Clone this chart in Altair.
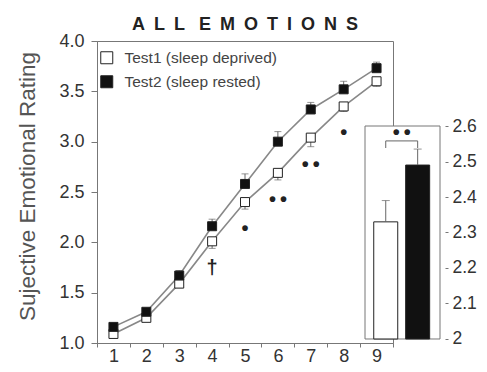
import altair as alt
import pandas as pd

FONT = "Liberation Sans"

# ---------------- data ----------------
blocks = ["1", "2", "3", "4", "5", "6", "7", "8", "9"]
series_names = ["Test1 (sleep deprived)", "Test2 (sleep rested)"]
test1_mean = [1.09, 1.25, 1.59, 2.01, 2.40, 2.69, 3.04, 3.35, 3.60]
test2_mean = [1.16, 1.31, 1.67, 2.16, 2.58, 3.00, 3.32, 3.52, 3.73]
test1_err = [0.03, 0.03, 0.04, 0.07, 0.07, 0.07, 0.09, 0.05, 0.05]
test2_err = [0.03, 0.03, 0.05, 0.07, 0.10, 0.10, 0.07, 0.08, 0.06]
sig_marks = ["", "", "", "\u2020", "\u2022", "\u2022\u2009\u2022", "\u2022\u2009\u2022", "\u2022", ""]

overall_mean = [2.33, 2.49]
overall_err = [0.06, 0.045]
overall_sig = "\u2022\u2009\u2022"

y_ticks = [1.0, 1.5, 2.0, 2.5, 3.0, 3.5, 4.0]
inset_ticks = [2.0, 2.1, 2.2, 2.3, 2.4, 2.5, 2.6]

# ---------------- tables ----------------
rows = []
for b, m1, e1, m2, e2 in zip(blocks, test1_mean, test1_err, test2_mean, test2_err):
    rows.append({"block": b, "series": series_names[0], "mean": m1, "end": m1 - e1})
    rows.append({"block": b, "series": series_names[1], "mean": m2, "end": m2 + e2})
df = pd.DataFrame(rows)
sig_df = pd.DataFrame({"block": blocks, "mean": test1_mean, "mark": sig_marks})
sig_df = sig_df[sig_df["mark"] != ""]

inset_df = pd.DataFrame({
    "series": series_names,
    "pos": list(range(1, len(series_names) + 1)),
    "mean": overall_mean,
    "top": [m + e for m, e in zip(overall_mean, overall_err)],
})
bracket_y = max(inset_df["top"]) + 0.023
leg_df = pd.DataFrame({"pos": inset_df["pos"], "y": bracket_y, "y2": bracket_y - 0.02})
star_df = pd.DataFrame({"pos": [inset_df["pos"].mean()], "y": [bracket_y], "mark": [overall_sig]})
bracket_df = pd.DataFrame({"x": [inset_df["pos"].min()], "x2": [inset_df["pos"].max()], "y": [bracket_y]})

# ---------------- shared encodings ----------------
GRAY = "#777777"
LABEL = "#333333"

fill_scale = alt.Scale(domain=series_names, range=["white", "#111111"])
legend = alt.Legend(
    title=None, orient="none", legendX=2, legendY=9, symbolType="square",
    symbolSize=144, symbolStrokeColor="#222222", symbolStrokeWidth=1,
    labelFontSize=15.5, labelFont=FONT, labelColor="#444444", labelOffset=10,
    rowPadding=6, padding=0,
)

x_main = alt.X(
    "block:O",
    scale=alt.Scale(type="band", domain=blocks, paddingInner=0, paddingOuter=0),
    axis=alt.Axis(
        title=None, labelAngle=0, tickBand="extent", tickSize=4, labelPadding=0,
        labelFontSize=18, labelFont=FONT, labelColor=LABEL,
        domainColor=GRAY, tickColor=GRAY,
    ),
)
y_scale = alt.Scale(domain=[1, 4], nice=False, zero=False)
y_axis = alt.Axis(
    values=y_ticks, format=".1f", tickSize=6, labelPadding=7,
    labelFontSize=18, labelFont=FONT, labelColor=LABEL,
    domainColor=GRAY, tickColor=GRAY, grid=False,
    titleFont=FONT, titleFontSize=22.5, titleFontWeight="normal",
    titleColor="#555555", titleX=-70, titleY=145, titleBaseline="middle",
    titleAngle=270,
)
Y_TITLE = "Sujective Emotional Rating"

base = alt.Chart(df).encode(x=x_main)

lines = base.mark_line(color="#888888", strokeWidth=1.6).encode(
    y=alt.Y("mean:Q", scale=y_scale, axis=y_axis, title=Y_TITLE),
    detail="series:N",
)
err_rules = base.mark_rule(color="#666666", strokeWidth=1).encode(
    y=alt.Y("mean:Q", scale=y_scale, axis=y_axis, title=Y_TITLE),
    y2="end:Q",
)
err_caps = base.mark_tick(orient="horizontal", size=7, thickness=1, color="#666666").encode(
    y=alt.Y("end:Q", scale=y_scale, axis=y_axis, title=Y_TITLE),
)
squares = base.mark_square(size=81, opacity=1, stroke="#222222", strokeWidth=1).encode(
    y=alt.Y("mean:Q", scale=y_scale, axis=y_axis, title=Y_TITLE),
    fill=alt.Fill("series:N", scale=fill_scale, legend=legend),
)
sig_text = alt.Chart(sig_df).mark_text(
    dy=27, fontSize=20, font=FONT, fontWeight="bold", color="#222222", baseline="middle"
).encode(
    x=x_main,
    y=alt.Y("mean:Q", scale=y_scale, axis=y_axis, title=Y_TITLE),
    text="mark:N",
)

main = alt.layer(lines, err_rules, err_caps, squares, sig_text)

# ---------------- inset ----------------
INSET_X = [0.35, 2.7]
x_in_scale = alt.Scale(domain=INSET_X, range=[263, 348], nice=False, zero=False)
y_in_scale = alt.Scale(domain=[1.98873, 2.83944], nice=False, zero=False)
y_in_axis = alt.Axis(
    orient="right", offset=52, values=inset_ticks, format="~g", domain=False,
    tickSize=3, labelPadding=4, labelFontSize=17.5, labelFont=FONT,
    labelColor=LABEL, tickColor=GRAY, grid=False, title=None,
)

frame = alt.Chart(pd.DataFrame({"k": [0]})).mark_rect(
    fill="white", stroke=GRAY, strokeWidth=1
).encode(
    x=alt.X(datum=INSET_X[0], scale=x_in_scale, axis=None),
    x2=alt.datum(INSET_X[1]),
    y=alt.Y(datum=inset_ticks[0], scale=y_in_scale, axis=y_in_axis),
    y2=alt.datum(inset_ticks[-1]),
)
ibase = alt.Chart(inset_df).encode(x=alt.X("pos:Q", scale=x_in_scale, axis=None))
bars = ibase.mark_bar(size=24, stroke="#222222", strokeWidth=1).encode(
    y=alt.Y("mean:Q", scale=y_in_scale, axis=y_in_axis),
    y2=alt.datum(inset_ticks[0]),
    fill=alt.Fill("series:N", scale=fill_scale, legend=legend),
)
ierr = ibase.mark_rule(color="#666666").encode(
    y=alt.Y("mean:Q", scale=y_in_scale, axis=y_in_axis), y2="top:Q"
)
icaps = ibase.mark_tick(orient="horizontal", size=8, thickness=1, color="#666666").encode(
    y=alt.Y("top:Q", scale=y_in_scale, axis=y_in_axis)
)
bracket = alt.Chart(bracket_df).mark_rule(color="#666666").encode(
    x=alt.X("x:Q", scale=x_in_scale, axis=None), x2="x2:Q",
    y=alt.Y("y:Q", scale=y_in_scale, axis=y_in_axis),
)
legs = alt.Chart(leg_df).mark_rule(color="#666666").encode(
    x=alt.X("pos:Q", scale=x_in_scale, axis=None),
    y=alt.Y("y:Q", scale=y_in_scale, axis=y_in_axis), y2="y2:Q",
)
star = alt.Chart(star_df).mark_text(
    dy=-8, fontSize=20, font=FONT, fontWeight="bold", color="#222222", baseline="middle"
).encode(
    x=alt.X("pos:Q", scale=x_in_scale, axis=None),
    y=alt.Y("y:Q", scale=y_in_scale, axis=y_in_axis),
    text="mark:N",
)

inset = alt.layer(frame, bars, ierr, icaps, bracket, legs, star)

title_text = "\u2002".join("ALL") + "\u2002 " + "\u2002".join("EMOTIONS")

chart = alt.layer(main, inset).resolve_scale(
    x="independent", y="independent"
).properties(
    width=296, height=302,
    autosize=alt.AutoSizeParams(type="none"),
    padding={"left": 89, "top": 33, "right": 86, "bottom": 21},
    title=alt.TitleParams(
        text=title_text, fontSize=18, fontWeight="bold", font=FONT,
        color="#222222", anchor="middle", frame="group", offset=-2,
    ),
    background="white",
).configure_view(stroke=GRAY, strokeWidth=1)

chart.save("out.html", embed_options={"renderer": "svg", "actions": False})
